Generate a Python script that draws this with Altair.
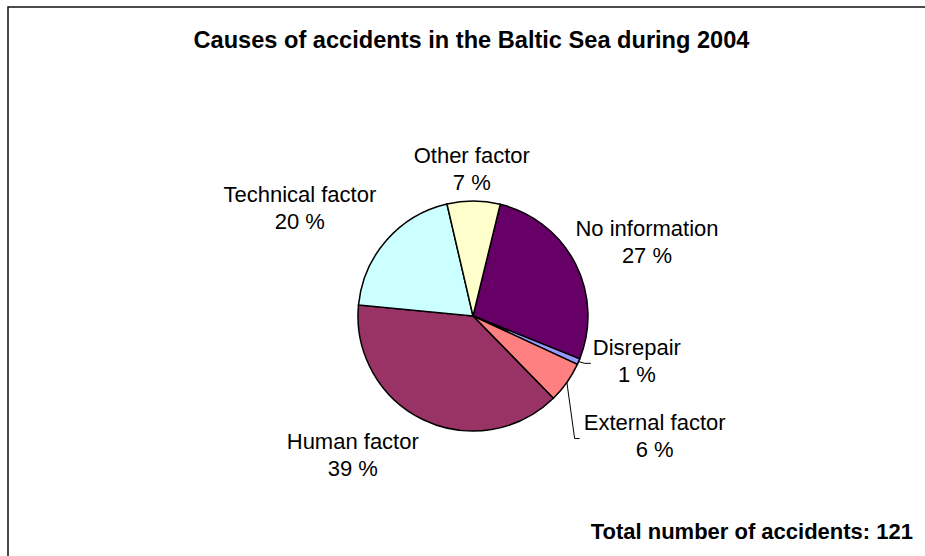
import math
import altair as alt
import pandas as pd

# ---------------- data ----------------
causes = ["No information", "Disrepair", "External factor", "Human factor",
          "Technical factor", "Other factor"]
counts = [33, 1, 7, 47, 24, 9]          # total 121 accidents
percents = [27, 1, 6, 39, 20, 7]
colors = ["#660066", "#9999FF", "#FF8080", "#993366", "#CCFFFF", "#FFFFCC"]
title_text = "Causes of accidents in the Baltic Sea during 2004"
total_text = "Total number of accidents: 121"

# ---------------- layout ----------------
W, H = 925, 556
CX, CY = 473, 316          # pie centre
R = 115                    # pie radius
START_DEG = 13.7           # angle where the first slice starts (clockwise from 12 o'clock)
label_nudge_deg = [4.2, -7.9, -1.7, 15.2, -9.3, -0.8]
label_radius = [189, 170, 218, 184, 204, 147]
leader_dx = {1: (-52, -46), 2: (-80, -75)}   # elbow / end offsets from label centre
LINE_GAP = 13.5
FONT = "Liberation Sans"

total = sum(counts)
rows, label_rows, leader_rows = [], [], []
cum = 0
for i, (c, v, p) in enumerate(zip(causes, counts, percents)):
    mid = START_DEG + (cum + v / 2) / total * 360
    cum += v
    rows.append({"cause": c, "count": v, "idx": i})
    ang = mid + label_nudge_deg[i]
    label_rows.append({"name": c, "pct": f"{p} %", "ang": ang, "r": label_radius[i]})
    if i in leader_dx:
        a = math.radians(mid)
        sx, sy = CX + R * math.sin(a), CY - R * math.cos(a)
        la = math.radians(ang)
        lx, ly = CX + label_radius[i] * math.sin(la), CY - label_radius[i] * math.cos(la)
        ex, tx = leader_dx[i]
        pts = [(sx, sy), (lx + ex, ly + 2), (lx + tx, ly + 2)]
        for k, (px, py) in enumerate(pts):
            leader_rows.append({"id": c, "ord": k, "px": px, "py": py})

df = pd.DataFrame(rows)
df_lab = pd.DataFrame(label_rows)
df_lead = pd.DataFrame(leader_rows)

s0 = math.radians(START_DEG)

frame = alt.Chart(pd.DataFrame({"a": [0]})).mark_rect(
    fill="white", stroke="#111111", strokeWidth=1.5
).encode(x=alt.value(8), y=alt.value(7), x2=alt.value(W + 20), y2=alt.value(H + 20))

pie = alt.Chart(df).mark_arc(outerRadius=R, stroke="black", strokeWidth=1.5).encode(
    theta=alt.Theta("count:Q", stack=True, scale=alt.Scale(range=[s0, s0 + 2 * math.pi])),
    color=alt.Color("cause:N", scale=alt.Scale(domain=causes, range=colors), legend=None),
    order=alt.Order("idx:Q"),
    x=alt.value(CX), y=alt.value(CY),
)

lab_base = alt.Chart(df_lab).encode(
    theta=alt.Theta("ang:Q", stack=False, scale=alt.Scale(domain=[0, 360], range=[0, 2 * math.pi])),
    radius=alt.Radius("r:Q", scale=None),
    x=alt.value(CX), y=alt.value(CY),
)
names = lab_base.mark_text(
    font=FONT, fontSize=22, align="center", baseline="middle", color="black", dy=-LINE_GAP
).encode(text="name:N")
pcts = lab_base.mark_text(
    font=FONT, fontSize=22, align="center", baseline="middle", color="black", dy=LINE_GAP
).encode(text="pct:N")

leaders = alt.Chart(df_lead).mark_line(color="black", strokeWidth=1).encode(
    x=alt.X("px:Q", scale=None, axis=None),
    y=alt.Y("py:Q", scale=None, axis=None),
    detail="id:N",
    order="ord:Q",
)

title = alt.Chart(pd.DataFrame({"t": [title_text]})).mark_text(
    font=FONT, fontSize=23.6, fontWeight="bold", align="center", baseline="alphabetic", color="black"
).encode(text="t:N", x=alt.value(471.5), y=alt.value(48))

total_lbl = alt.Chart(pd.DataFrame({"t": [total_text]})).mark_text(
    font=FONT, fontSize=22, fontWeight="bold", align="right", baseline="alphabetic", color="black"
).encode(text="t:N", x=alt.value(913), y=alt.value(539))

chart = alt.layer(frame, pie, leaders, names, pcts, title, total_lbl).resolve_scale(
    theta="independent", radius="independent"
).properties(
    width=W, height=H, autosize=alt.AutoSizeParams(type="none"), padding=0,
    background="white"
).configure_view(strokeWidth=0)

chart.save("out.html", embed_options={"renderer": "svg", "actions": False})
